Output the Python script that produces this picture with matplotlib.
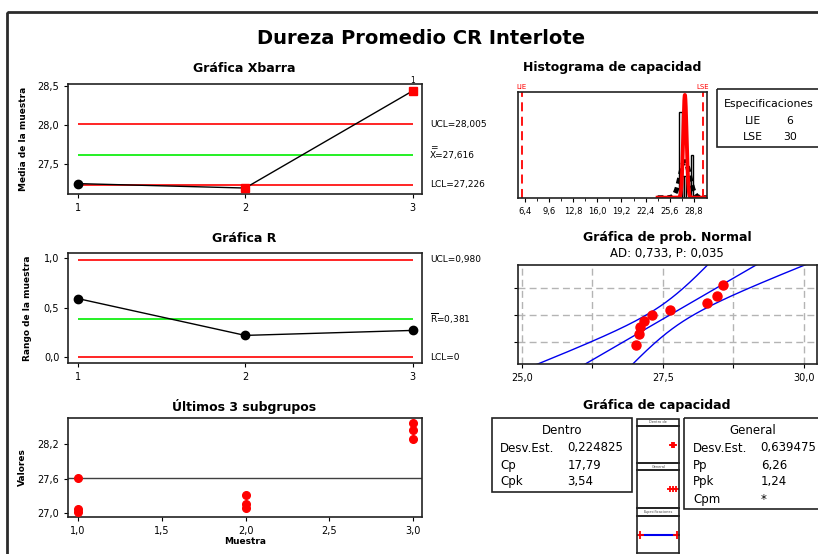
import numpy as np
import matplotlib
matplotlib.use('Agg')
import matplotlib.pyplot as plt
from matplotlib.patches import Rectangle
from matplotlib.ticker import FuncFormatter, FixedLocator
from statistics import NormalDist

# datos: 3 subgrupos de 3 mediciones
muestras = [1, 2, 3]
subgrupos = [
    [27.62, 27.08, 27.03],
    [27.31, 27.16, 27.09],
    [28.56, 28.45, 28.29],
]

# limites de control
xbar_centro, xbar_ucl, xbar_lcl = 27.616, 28.005, 27.226
r_centro, r_ucl, r_lcl = 0.381, 0.980, 0.0

# especificaciones y capacidad
lie, lse = 6, 30
desv_dentro = 0.224825
desv_general = 0.639475
cp, cpk = 17.79, 3.54
pp, ppk = 6.26, 1.24
ad_stat, p_valor = 0.733, 0.035

hist_ticks = [6.4, 9.6, 12.8, 16.0, 19.2, 22.4, 25.6, 28.8]
hist_bins = [26.9, 27.2, 27.5, 27.8, 28.1, 28.4, 28.7]
prob_ticks = [25.0, 26.25, 27.5, 28.75, 30.0]
prob_pcts = [0.10, 0.50, 0.90]

W, H = 818, 554
plt.rcParams['font.family'] = 'DejaVu Sans'
plt.rcParams['axes.linewidth'] = 1.2
plt.rcParams['axes.edgecolor'] = '#222222'
plt.rcParams['xtick.labelsize'] = 7
plt.rcParams['ytick.labelsize'] = 7
plt.rcParams['xtick.major.size'] = 3
plt.rcParams['ytick.major.size'] = 3

fig = plt.figure(figsize=(W / 100, H / 100), dpi=100)


def box(x0, y0, x1, y1):
    return [x0 / W, 1 - y1 / H, (x1 - x0) / W, (y1 - y0) / H]


def coma(fmt):
    return FuncFormatter(lambda v, p: fmt.format(v).replace('.', ','))


def titulo(x, y, s, size=9, bold=True):
    fig.text(x / W, 1 - y / H, s, ha='center', va='center', fontsize=size,
             fontweight='bold' if bold else 'normal')


def etiqueta(ax, y, s):
    ax.text(1.024, y, s, transform=ax.get_yaxis_transform(), fontsize=6.5,
            va='center', ha='left')


def eje_y(ax, s, x):
    ax.set_ylabel(s, fontsize=6.5, fontweight='bold')
    ax.yaxis.set_label_coords(x, 0.5)


xbar = [np.mean(s) for s in subgrupos]
rangos = [max(s) - min(s) for s in subgrupos]
todos = np.concatenate(subgrupos)

# ---- Grafica Xbarra
ax1 = fig.add_axes(box(68.3, 84.3, 421.7, 194))
ax1.hlines([xbar_ucl, xbar_lcl], 1, 3, color='red', lw=1.2)
ax1.hlines(xbar_centro, 1, 3, color='#00ee00', lw=1.2)
ax1.plot(muestras, xbar, color='black', lw=1, zorder=3)
for m, v in zip(muestras, xbar):
    if v > xbar_ucl or v < xbar_lcl:
        ax1.plot(m, v, 's', color='red', ms=5.5, zorder=4)
        if v > xbar_ucl:
            ax1.annotate('1', (m, v), xytext=(0, 4), textcoords='offset points',
                         ha='center', va='bottom', fontsize=5.5)
    else:
        ax1.plot(m, v, 'o', color='black', ms=6, zorder=4)
ax1.set_xlim(0.944, 3.054)
ax1.set_ylim(27.11, 28.518)
ax1.set_xticks(muestras)
ax1.set_yticks([27.5, 28.0, 28.5])
ax1.yaxis.set_major_formatter(coma('{:.1f}'))
eje_y(ax1, 'Media de la muestra', -0.114)
etiqueta(ax1, xbar_ucl, 'UCL=28,005')
etiqueta(ax1, xbar_centro - 0.012, 'X=27,616')
etiqueta(ax1, xbar_centro + 0.085, '=')
etiqueta(ax1, xbar_lcl, 'LCL=27,226')
titulo(244.5, 68, 'Gráfica Xbarra')

# ---- Grafica R
ax2 = fig.add_axes(box(68.3, 253.3, 421.7, 363.3))
ax2.hlines([r_ucl, r_lcl], 1, 3, color='red', lw=1.2)
ax2.hlines(r_centro, 1, 3, color='#00ee00', lw=1.2)
ax2.plot(muestras, rangos, color='black', lw=1, marker='o', ms=6, zorder=3)
ax2.set_xlim(0.944, 3.054)
ax2.set_ylim(-0.06, 1.044)
ax2.set_xticks(muestras)
ax2.set_yticks([0.0, 0.5, 1.0])
ax2.yaxis.set_major_formatter(coma('{:.1f}'))
eje_y(ax2, 'Rango de la muestra', -0.104)
etiqueta(ax2, r_ucl, 'UCL=0,980')
etiqueta(ax2, r_centro, r'$\overline{\mathrm{R}}$=0,381')
etiqueta(ax2, r_lcl, 'LCL=0')
titulo(244.5, 238, 'Gráfica R')

# ---- Ultimos subgrupos
ax3 = fig.add_axes(box(68.3, 418.3, 421.7, 516.7))
ax3.axhline(xbar_centro, color='#404040', lw=1)
for m, s in zip(muestras, subgrupos):
    ax3.plot([m] * len(s), s, 'o', color='red', ms=5.5, zorder=3)
ax3.set_xlim(0.944, 3.05)
ax3.set_ylim(26.94, 28.65)
ax3.set_xticks([1.0, 1.5, 2.0, 2.5, 3.0])
ax3.set_yticks([27.0, 27.6, 28.2])
ax3.xaxis.set_major_formatter(coma('{:.1f}'))
ax3.yaxis.set_major_formatter(coma('{:.1f}'))
eje_y(ax3, 'Valores', -0.117)
ax3.set_xlabel('Muestra', fontsize=6.5, fontweight='bold', labelpad=1)
titulo(244.5, 406, 'Últimos 3 subgrupos')

# ---- Histograma de capacidad
ax4 = fig.add_axes(box(517.7, 92.3, 707, 197.7))
ax4.hist(todos, bins=hist_bins, density=True, facecolor='white',
         edgecolor='black', lw=1)
xs = np.linspace(24, 31, 600)
pdf = lambda x, s: np.exp(-0.5 * ((x - xbar_centro) / s) ** 2) / (s * np.sqrt(2 * np.pi))
ax4.plot(xs, pdf(xs, desv_general), color='black', lw=3.5, ls=(0, (1.2, 0.8)))
ax4.plot(xs, pdf(xs, desv_dentro), color='red', lw=2.8)
for v, t in [(lie, 'LIE'), (lse, 'LSE')]:
    ax4.axvline(v, color='red', lw=1.3, ls=(0, (5, 3)))
    ax4.text(v, 1.02, t, transform=ax4.get_xaxis_transform(), color='red',
             fontsize=5, ha='center', va='bottom')
ax4.set_xlim(5.43, 30.55)
ax4.set_ylim(0, 1.82)
ax4.set_yticks([])
ax4.xaxis.set_major_locator(FixedLocator(hist_ticks))
ax4.xaxis.set_minor_locator(FixedLocator([t + 1.6 for t in hist_ticks[:-1]]))
ax4.tick_params(axis='x', which='minor', length=2)
ax4.tick_params(axis='x', labelsize=6)
ax4.xaxis.set_major_formatter(coma('{:.1f}'))
titulo(612, 68, 'Histograma de capacidad')

# ---- Grafica de prob. Normal
nd = NormalDist()
ax5 = fig.add_axes(box(518.3, 265, 816.5, 364))
orden = np.sort(todos)
n = len(orden)
z = [nd.inv_cdf((i - 0.3) / (n + 0.4)) for i in range(1, n + 1)]
zz = np.linspace(-3, 3, 200)
xc = xbar_centro + zz * desv_general
banda = 1.96 * desv_general * np.sqrt(1 / n + zz ** 2 / (2 * (n - 1)))
for curva in (xc - banda, xc, xc + banda):
    ax5.plot(curva, zz, color='#0000ee', lw=1)
ax5.plot(orden, z, 'o', color='red', ms=6.5, zorder=3)
ax5.set_xlim(24.94, 30.22)
ax5.set_ylim(-2.33, 2.40)
ax5.set_xticks(prob_ticks)
ax5.xaxis.set_major_formatter(FuncFormatter(
    lambda v, p: f'{v:.1f}'.replace('.', ',') if v in (25.0, 27.5, 30.0) else ''))
ax5.set_yticks([nd.inv_cdf(p) for p in prob_pcts])
ax5.set_yticklabels([])
ax5.grid(True, color='#b4b4b4', ls=(0, (5, 3)), lw=1)
ax5.set_axisbelow(True)
titulo(667, 238, 'Gráfica de prob. Normal')
titulo(667, 253.5, f'AD: {ad_stat:.3f}, P: {p_valor:.3f}'.replace('.', ','),
       size=8.5, bold=False)

# ---- Grafica de capacidad
titulo(657, 406, 'Gráfica de capacidad')
paneles = [
    ('Dentro de', 419, 425.7, 463.3),
    ('General', 463.3, 470, 508.3),
    ('Especificaciones', 508.3, 515.7, 553.3),
]
intervalos = [
    [xbar_centro - 3 * desv_dentro, xbar_centro, xbar_centro + 3 * desv_dentro],
    [xbar_centro - 3 * desv_general, xbar_centro, xbar_centro + 3 * desv_general],
]
ov = fig.add_axes([0, 0, 1, 1], zorder=10)
ov.set_xlim(0, W)
ov.set_ylim(H, 0)
ov.axis('off')
for k, (nombre, y0, y1, y2) in enumerate(paneles):
    ov.add_patch(Rectangle((637.3, y0), 42, y1 - y0, fill=False, lw=1.2,
                           ec='#222222', clip_on=False))
    ov.text(658.3, (y0 + y1) / 2, nombre, fontsize=2.5, ha='center',
            va='center', color='#444444')
    axp = fig.add_axes(box(637.3, y1, 679.3, y2))
    if k < 2:
        axp.plot(intervalos[k], [0, 0, 0], color='red', lw=1.5, marker='+',
                 ms=5, mew=1.3)
    else:
        axp.plot([lie, lse], [0, 0], color='#0000ee', lw=1.5)
        axp.plot([lie, lse], [0, 0], '+', color='red', ms=6, mew=1.3)
    axp.set_xlim(4.23, 31.7)
    axp.set_ylim(-1, 1)
    axp.set_xticks([])
    axp.set_yticks([])

# cuadros de texto
fs = 8.5
ov.add_patch(Rectangle((492.3, 418.3), 140, 74, fill=False, lw=1.2,
                       ec='#222222', clip_on=False))
ov.text(562.3, 430.7, 'Dentro', fontsize=fs, ha='center', va='center')
for y, a, b in [(448, 'Desv.Est.', f'{desv_dentro:.6f}'),
                (465.7, 'Cp', f'{cp:.2f}'),
                (482, 'Cpk', f'{cpk:.2f}')]:
    ov.text(500, y, a, fontsize=fs, va='center')
    ov.text(567.3, y, b.replace('.', ','), fontsize=fs, va='center')

ov.add_patch(Rectangle((684, 418.3), 160, 91, fill=False, lw=1.2,
                       ec='#222222', clip_on=False))
ov.text(753, 430.7, 'General', fontsize=fs, ha='center', va='center')
for y, a, b in [(448, 'Desv.Est.', f'{desv_general:.6f}'),
                (465.7, 'Pp', f'{pp:.2f}'),
                (482, 'Ppk', f'{ppk:.2f}'),
                (499, 'Cpm', '*')]:
    ov.text(693.3, y, a, fontsize=fs, va='center')
    ov.text(760.7, y, b.replace('.', ','), fontsize=fs, va='center')

ov.add_patch(Rectangle((717.3, 89.3), 130, 58, fill=False, lw=1.2,
                       ec='#222222', clip_on=False))
ov.text(724, 104, 'Especificaciones', fontsize=7.8, va='center')
ov.text(753, 120.7, 'LIE', fontsize=7.8, ha='center', va='center')
ov.text(790, 120.7, f'{lie}', fontsize=7.8, ha='center', va='center')
ov.text(753, 137.3, 'LSE', fontsize=7.8, ha='center', va='center')
ov.text(790, 137.3, f'{lse}', fontsize=7.8, ha='center', va='center')

# marco y titulo general
ov.add_patch(Rectangle((7.3, 11.7), 900, 600, fill=False, lw=2,
                       ec='#2b2b2b', clip_on=False))
ov.text(421, 38, 'Dureza Promedio CR Interlote', fontsize=14,
        fontweight='bold', ha='center', va='center')

fig.savefig('out.png', dpi=100)
